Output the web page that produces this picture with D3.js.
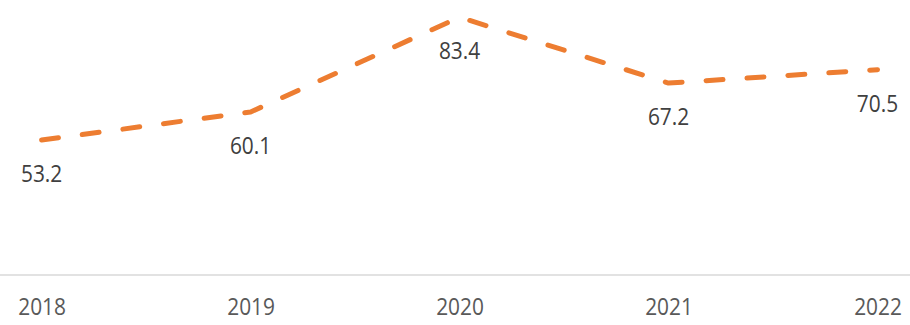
<!DOCTYPE html>
<html lang="en">
<head>
  <meta charset="UTF-8">
  <title>Line chart 2018-2022</title>
  <style>
    * {box-sizing: border-box;}
    html, body {
      margin: 0;
      padding: 0;
      background: #fff;
    }
    svg text {
      font-family: "Open Sans", "Noto Sans", sans-serif;
    }
  </style>
</head>
<body>
  <svg id="chart"></svg>

  <script src="https://d3js.org/d3.v7.min.js"></script>
  <script>
    const years = ['2018', '2019', '2020', '2021', '2022']
    const values = [53.2, 60.1, 83.4, 67.2, 70.5]
    const yDomain = [20, 90]

    const width = 910
    const height = 325
    const squeeze = 0.87 // glyphs in the picture are narrower than Open Sans

    const svg = d3.select('#chart')
      .attr('width', width)
      .attr('height', height)

    const x = d3.scalePoint()
      .domain(years)
      .range([41.6, 877.5])

    const y = d3.scaleLinear()
      .domain(yDomain)
      .range([275, -9.6])

    // category axis: only the baseline and the labels
    const xAxis = d3.axisBottom(x).tickSize(0).tickPadding(0)
    const gx = svg.append('g')
      .attr('transform', `translate(0,${y(yDomain[0])})`)
      .call(xAxis)
    gx.select('.domain').remove()
    gx.selectAll('.tick text')
      .attr('fill', '#595959')
      .attr('font-size', 24)
      .attr('dy', null)
      .attr('y', 0)
      .attr('transform', `translate(0,40) scale(${squeeze},1)`)

    svg.append('line')
      .attr('x1', 0)
      .attr('x2', width)
      .attr('y1', y(yDomain[0]))
      .attr('y2', y(yDomain[0]))
      .attr('stroke', '#D9D9D9')
      .attr('stroke-width', 1.5)

    const line = d3.line()
      .x((d, i) => x(years[i]))
      .y(d => y(d))

    svg.append('path')
      .datum(values)
      .attr('d', line)
      .attr('fill', 'none')
      .attr('stroke', '#ED7D31')
      .attr('stroke-width', 5)
      .attr('stroke-linecap', 'round')
      .attr('stroke-linejoin', 'round')
      .attr('stroke-dasharray', '17,24')

    svg.append('g')
      .selectAll('text')
      .data(values)
      .join('text')
      .attr('transform', (d, i) => `translate(${x(years[i])},${y(d) + 42}) scale(${squeeze},1)`)
      .attr('text-anchor', 'middle')
      .attr('fill', '#404040')
      .attr('font-size', 24)
      .text(d => d.toFixed(1))
  </script>
</body>
</html>
